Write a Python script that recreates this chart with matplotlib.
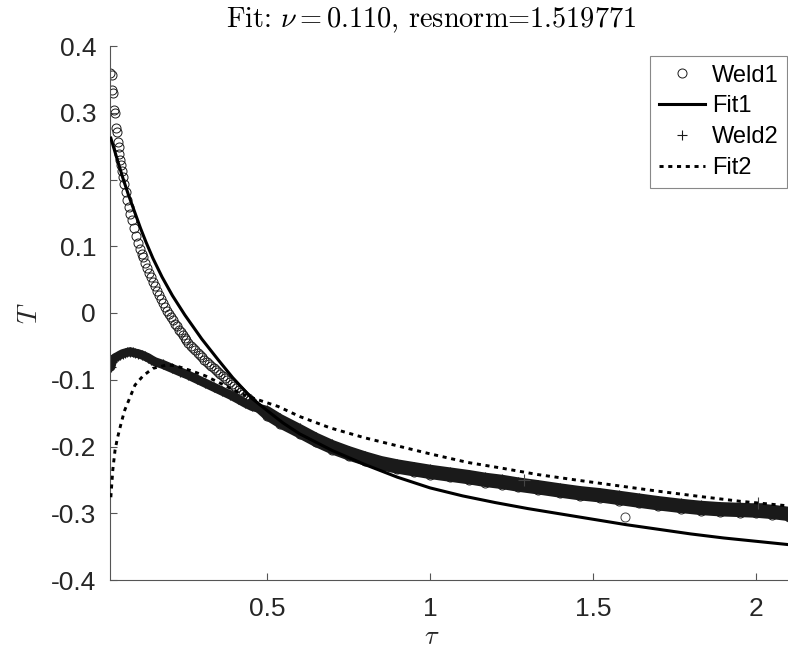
import numpy as np
import matplotlib
matplotlib.use("Agg")
import matplotlib.pyplot as plt

plt.rcParams['font.family'] = ['Liberation Sans', 'DejaVu Sans']
plt.rcParams['mathtext.fontset'] = 'cm'

# ---------------------------------------------------------------------------
# data
weld1_x = [0.018, 0.025, 0.025, 0.028, 0.031, 0.034, 0.037, 0.040, 0.043, 0.045,
           0.047, 0.049, 0.052, 0.055, 0.058, 0.062, 0.066, 0.071, 0.076, 0.081,
           0.086, 0.092, 0.098, 0.104, 0.110, 0.116, 0.120, 0.126, 0.132, 0.138,
           0.143, 0.149, 0.156, 0.162, 0.168, 0.174, 0.180, 0.187, 0.193, 0.199,
           0.205, 0.211, 0.217, 0.223, 0.229, 0.235, 0.241, 0.247, 0.253, 0.259,
           0.266, 0.273, 0.280, 0.287, 0.294, 0.301, 0.308, 0.315, 0.322, 0.329,
           0.336, 0.343, 0.350, 0.357, 0.364, 0.371, 0.378, 0.385, 0.392, 0.399,
           0.406, 0.413, 0.420, 0.427, 0.434, 0.441, 0.448, 0.454,
           0.50, 0.54, 0.60, 0.65, 0.70, 0.75, 0.80, 0.85, 0.90, 0.95,
           1.00, 1.06, 1.12, 1.17, 1.22, 1.27, 1.33, 1.40, 1.46, 1.52,
           1.58, 1.64, 1.70, 1.77, 1.83, 1.89, 1.95, 2.00, 2.05, 2.10]
weld1_y = [0.360, 0.357, 0.334, 0.330, 0.304, 0.300, 0.277, 0.271, 0.256, 0.248,
           0.238, 0.229, 0.221, 0.212, 0.204, 0.193, 0.182, 0.169, 0.159, 0.149,
           0.139, 0.127, 0.116, 0.105, 0.096, 0.089, 0.084, 0.075, 0.067, 0.060,
           0.054, 0.047, 0.040, 0.033, 0.027, 0.021, 0.015, 0.009, 0.003, -0.002,
           -0.006, -0.011, -0.016, -0.020, -0.025, -0.029, -0.033, -0.037, -0.041, -0.045,
           -0.049, -0.053, -0.056, -0.060, -0.063, -0.066, -0.070, -0.073, -0.076, -0.079,
           -0.082, -0.085, -0.088, -0.091, -0.094, -0.097, -0.100, -0.103, -0.106, -0.109,
           -0.112, -0.116, -0.119, -0.122, -0.125, -0.128, -0.131, -0.134,
           -0.154, -0.166, -0.181, -0.194, -0.205, -0.214, -0.222, -0.229, -0.234, -0.238,
           -0.242, -0.246, -0.250, -0.254, -0.257, -0.261, -0.265, -0.270, -0.274, -0.277,
           -0.281, -0.285, -0.289, -0.293, -0.296, -0.298, -0.299, -0.300, -0.302, -0.305]
weld1_out_x = [1.598]
weld1_out_y = [-0.306]

weld2_x = [0.018, 0.018, 0.021, 0.025, 0.030, 0.034, 0.042, 0.049, 0.057, 0.064,
           0.072, 0.080, 0.088, 0.095, 0.105, 0.117, 0.126, 0.135, 0.145, 0.156,
           0.180, 0.209, 0.233, 0.258, 0.284, 0.310, 0.336, 0.362, 0.388, 0.411,
           0.433, 0.454,
           0.50, 0.54, 0.60, 0.65, 0.70, 0.75, 0.80, 0.85, 0.90, 0.95,
           1.00, 1.06, 1.12, 1.17, 1.22, 1.27, 1.33, 1.40, 1.46, 1.52,
           1.58, 1.64, 1.70, 1.77, 1.83, 1.89, 1.95, 2.00, 2.05, 2.10]
weld2_y = [-0.070, -0.076, -0.081, -0.073, -0.069, -0.067, -0.065, -0.063, -0.061, -0.060,
           -0.059, -0.058, -0.059, -0.060, -0.061, -0.063, -0.065, -0.067, -0.070, -0.073,
           -0.077, -0.083, -0.088, -0.093, -0.099, -0.105, -0.111, -0.117, -0.123, -0.129,
           -0.135, -0.140,
           -0.146, -0.158, -0.173, -0.186, -0.197, -0.206, -0.214, -0.221, -0.226, -0.230,
           -0.234, -0.238, -0.242, -0.246, -0.249, -0.253, -0.257, -0.262, -0.266, -0.269,
           -0.273, -0.277, -0.281, -0.285, -0.288, -0.290, -0.291, -0.292, -0.294, -0.297]
weld2_out_x = [1.288, 2.006]
weld2_out_y = [-0.250, -0.285]

fit1_x = [0.021, 0.040, 0.058, 0.075, 0.095, 0.112, 0.129, 0.15, 0.178, 0.21,
          0.248, 0.30, 0.35, 0.395, 0.454, 0.50, 0.55, 0.60, 0.70, 0.80,
          0.90, 1.00, 1.10, 1.20, 1.30, 1.40, 1.50, 1.60, 1.70, 1.80,
          1.90, 2.00, 2.10]
fit1_y = [0.262, 0.231, 0.202, 0.177, 0.150, 0.127, 0.106, 0.082, 0.054, 0.026,
          -0.003, -0.039, -0.070, -0.097, -0.128, -0.146, -0.165, -0.181, -0.206, -0.227,
          -0.246, -0.262, -0.274, -0.284, -0.293, -0.301, -0.309, -0.317, -0.324, -0.331,
          -0.337, -0.342, -0.347]

fit2_x = [0.021, 0.027, 0.034, 0.041, 0.049, 0.057, 0.064, 0.08, 0.095, 0.12,
          0.15, 0.19, 0.22, 0.258, 0.31, 0.36, 0.417, 0.46, 0.534, 0.60,
          0.693, 0.80, 0.908, 1.00, 1.117, 1.215, 1.33, 1.46, 1.58, 1.70,
          1.83, 1.95, 2.10]
fit2_y = [-0.276, -0.235, -0.205, -0.188, -0.172, -0.157, -0.145, -0.126, -0.108, -0.094,
          -0.083, -0.078, -0.079, -0.085, -0.094, -0.106, -0.120, -0.128, -0.140, -0.155,
          -0.172, -0.187, -0.200, -0.211, -0.224, -0.232, -0.242, -0.251, -0.259, -0.267,
          -0.275, -0.282, -0.289]

x_ticks = [0.5, 1, 1.5, 2]
x_ticklabels = ['0.5', '1', '1.5', '2']
y_ticks = [-0.4, -0.3, -0.2, -0.1, 0, 0.1, 0.2, 0.3, 0.4]
y_ticklabels = ['-0.4', '-0.3', '-0.2', '-0.1', '0', '0.1', '0.2', '0.3', '0.4']

# ---------------------------------------------------------------------------
fig = plt.figure(figsize=(7.88, 6.55), dpi=100)
ax = fig.add_axes([110/788, 75/655, 678/788, 534/655])

ink = '#1a1a1a'
w1x, w1y = np.array(weld1_x), np.array(weld1_y)
w2x, w2y = np.array(weld2_x), np.array(weld2_y)

# dense part of the measured data shows as a solid band
dense = w1x >= 0.45
ax.plot(w1x[dense], w1y[dense], '-', color=ink, lw=6.5, solid_capstyle='round',
        label='_nolegend_', zorder=2)
ax.plot(w1x, w1y, 'o', ms=6.5, mfc='none', mec=ink, mew=0.7, label='Weld1', zorder=2)
ax.plot(weld1_out_x, weld1_out_y, 'o', ms=6.5, mfc='none', mec='#444444', mew=0.7,
        label='_nolegend_')
ax.plot(fit1_x, fit1_y, '-', color='black', lw=2.2, label='Fit1', zorder=3)
ax.plot(w2x, w2y, '-', color=ink, lw=6.5, solid_capstyle='round',
        label='_nolegend_', zorder=2)
ax.plot(w2x, w2y, '+', ms=7, mec=ink, mew=0.8, label='Weld2', zorder=2)
ax.plot(weld2_out_x, weld2_out_y, '+', ms=8, mec='#444444', mew=0.8, label='_nolegend_')
ax.plot(fit2_x, fit2_y, color='black', lw=2.1, ls=(0, (1.4, 1.6)), label='Fit2', zorder=4)

ax.set_xlim(0.0184, 2.098)
ax.set_ylim(-0.4, 0.4)
ax.set_xticks(x_ticks)
ax.set_xticklabels(x_ticklabels)
ax.set_yticks(y_ticks)
ax.set_yticklabels(y_ticklabels)
ax.tick_params(direction='in', length=5, width=0.8, color='#555555',
               labelcolor='#262626', labelsize=19)
ax.tick_params(axis='y', pad=10)
ax.tick_params(axis='x', pad=12)
for s in ['top', 'right']:
    ax.spines[s].set_visible(False)
for s in ['left', 'bottom']:
    ax.spines[s].set_color('#555555')
    ax.spines[s].set_linewidth(0.8)

fig.text(30/788, 1 - 313/655, r'$T$', rotation=90, ha='center', va='center',
         fontsize=20, color='#262626')
fig.text(432/788, 1 - 637/655, r'$\tau$', ha='center', va='center',
         fontsize=19, color='#262626')
fig.text(431/788, 1 - 27/655, r'Fit: $\nu = 0.110$, resnorm=1.519771', ha='center',
         va='baseline', fontsize=20.4, family='cmr10', color='black')

leg = ax.legend(loc='upper left', bbox_to_anchor=(650/788, 1 - 56/655),
                bbox_transform=fig.transFigure, borderaxespad=0, fontsize=17,
                handlelength=1.95, handletextpad=0.3, borderpad=0.36,
                labelspacing=0.38, numpoints=1, fancybox=False, framealpha=1)
leg.get_frame().set_edgecolor('#888888')
leg.get_frame().set_linewidth(0.8)

fig.savefig('out.png', dpi=100)
